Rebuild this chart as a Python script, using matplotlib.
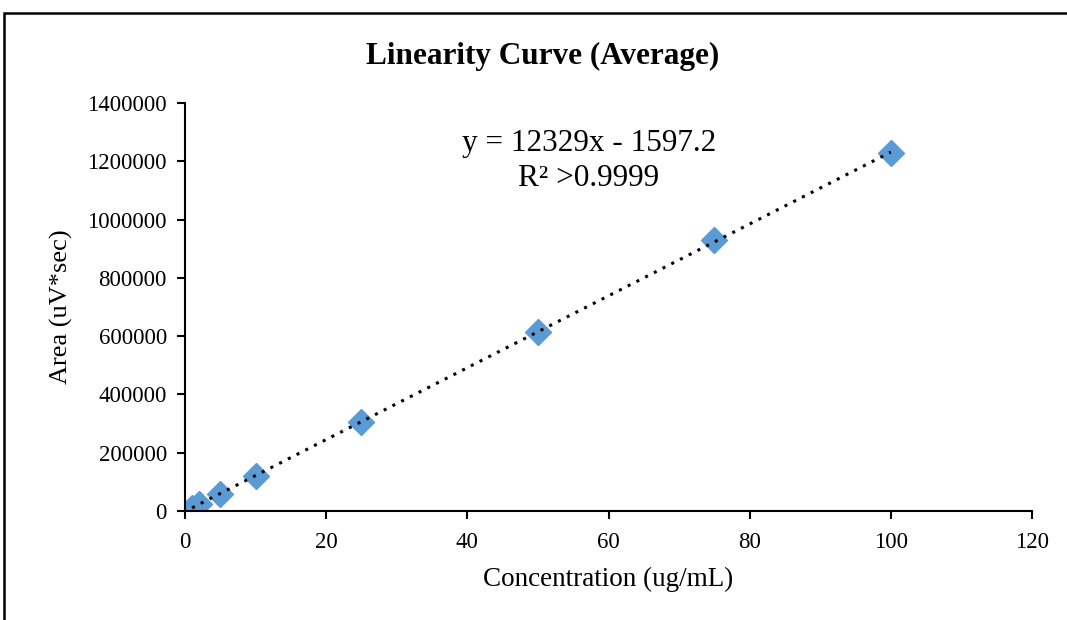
import numpy as np
import matplotlib.pyplot as plt
from matplotlib.patches import Rectangle

conc = [1, 2, 5, 10, 25, 50, 75, 100]
area = [11000, 23500, 60000, 121000, 306000, 614000, 929000, 1228000]
x_ticks = [0, 20, 40, 60, 80, 100, 120]
y_ticks = [0, 200000, 400000, 600000, 800000, 1000000, 1200000, 1400000]

plt.rcParams['font.family'] = ['Liberation Serif', 'DejaVu Serif']

fig = plt.figure(figsize=(10.67, 6.2), dpi=100)
ax = fig.add_axes([185 / 1067, 1 - 511 / 620, (1032 - 185) / 1067, (511 - 103) / 620])

# outer chart frame (cut off at right and bottom)
fig.patches.append(Rectangle((4 / 1067, -0.1), 1.2, 1 - 13 / 620 + 0.1, transform=fig.transFigure,
                             fill=False, edgecolor='black', linewidth=1.8))

ax.plot(conc, area, linestyle='none', marker='D', markersize=13, color='#5B9BD5', zorder=2)

# linear trendline
slope, intercept = np.polyfit(conc, area, 1)
xs = np.array([min(conc), max(conc)])
ax.plot(xs, slope * xs + intercept, linestyle=(0, (1, 2.2)), color='black', linewidth=2.2, zorder=3)

ax.set_xlim(0, 120)
ax.set_ylim(0, 1400000)
ax.set_xticks(x_ticks)
ax.set_yticks(y_ticks)
ax.set_yticklabels([str(v) for v in y_ticks])
ax.set_xticklabels([str(v) for v in x_ticks])
ax.tick_params(labelsize=16.5, direction='out', length=6, width=1.5)
ax.tick_params(axis='y', pad=7)
ax.tick_params(axis='x', pad=9)
for s in ['top', 'right']:
    ax.spines[s].set_visible(False)
for s in ['left', 'bottom']:
    ax.spines[s].set_linewidth(1.5)

ax.set_xlabel('Concentration (ug/mL)', fontsize=19.5, labelpad=10)
ax.set_ylabel('Area (uV*sec)', fontsize=19, labelpad=10)
fig.text(543 / 1067, 1 - 56 / 620, 'Linearity Curve (Average)', ha='center', va='center',
         fontsize=22.5, fontweight='bold')
fig.text(589 / 1067, 1 - 143 / 620, 'y = 12329x - 1597.2', ha='center', va='center', fontsize=22.5)
fig.text(589 / 1067, 1 - 178 / 620, 'R² >0.9999', ha='center', va='center', fontsize=22.5)

fig.savefig('out.png', dpi=100)
